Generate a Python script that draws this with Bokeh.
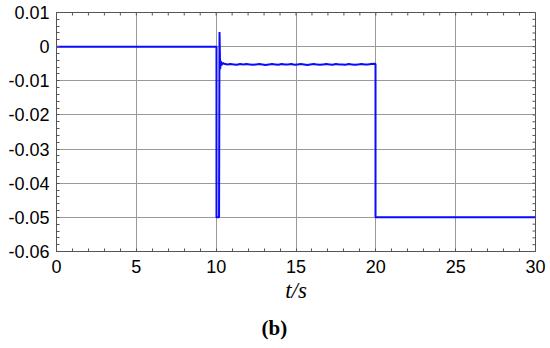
import math
from bokeh.plotting import figure
from bokeh.models import LinearAxis, FixedTicker, Range1d, Title
from bokeh.embed import file_html
from bokeh.resources import INLINE

# Signal: time (s) and value
t_vals = [0.0, 10.02, 10.02, 10.18, 10.21, 10.25, 10.29, 10.33, 10.40,
          10.5, 10.7, 10.9, 11.1, 11.3, 11.5, 11.7, 11.9, 12.1, 12.3, 12.5,
          12.7, 12.9, 13.1, 13.3, 13.5, 13.7, 13.9, 14.1, 14.3, 14.5, 14.7,
          14.9, 15.1, 15.3, 15.5, 15.7, 15.9, 16.1, 16.3, 16.5, 16.7, 16.9,
          17.1, 17.3, 17.5, 17.7, 17.9, 18.1, 18.3, 18.5, 18.7, 18.9, 19.1,
          19.3, 19.5, 19.7, 19.9, 19.98, 19.98, 30.0]
y_vals = [0.0, 0.0, -0.05, -0.05, 0.0043, -0.0066, -0.0042, -0.0055, -0.0048,
          -0.0050, -0.0052, -0.0051, -0.0052, -0.0053, -0.0051, -0.0052, -0.0051,
          -0.0052, -0.0053, -0.0052, -0.0051, -0.0052, -0.0054, -0.0052, -0.0051,
          -0.0052, -0.0053, -0.0051, -0.0052, -0.0052, -0.0051, -0.0053, -0.0052,
          -0.0051, -0.0052, -0.0054, -0.0052, -0.0051, -0.0052, -0.0053, -0.0052,
          -0.0051, -0.0052, -0.0053, -0.0051, -0.0052, -0.0052, -0.0053, -0.0051,
          -0.0052, -0.0053, -0.0052, -0.0051, -0.0052, -0.0052, -0.0051, -0.0050,
          -0.0051, -0.05, -0.05]

x_ticks = [0, 5, 10, 15, 20, 25, 30]
y_ticks = [0.01, 0.0, -0.01, -0.02, -0.03, -0.04, -0.05, -0.06]
y_tick_labels = ["0.01", "0", "-0.01", "-0.02", "-0.03", "-0.04", "-0.05", "-0.06"]
x_minor = list(range(0, 31))
y_minor = [0.01, 0.008, 0.006, 0.004, 0.002, 0.0, -0.002, -0.004, -0.006, -0.008,
           -0.01, -0.012, -0.014, -0.016, -0.018, -0.02, -0.022, -0.024, -0.026,
           -0.028, -0.03, -0.032, -0.034, -0.036, -0.038, -0.04, -0.042, -0.044,
           -0.046, -0.048, -0.05, -0.052, -0.054, -0.056, -0.058, -0.06]

X0, X1, Y0, Y1 = 0, 30, -0.06, 0.01

p = figure(width=550, height=348, output_backend="svg", toolbar_location=None,
           x_range=Range1d(X0, X1), y_range=Range1d(Y0, Y1),
           min_border_left=56, min_border_right=15, min_border_top=12,
           min_border_bottom=97, x_axis_location=None, y_axis_location=None)
p.background_fill_color = "white"
p.border_fill_color = "white"
p.outline_line_color = "#555555"
p.outline_line_width = 1

def make_axis(ticks, minor):
    ax = LinearAxis(ticker=FixedTicker(ticks=ticks, minor_ticks=minor))
    ax.axis_line_color = "#555555"
    ax.major_tick_in = 0
    ax.major_tick_out = 0
    ax.minor_tick_in = 3
    ax.minor_tick_out = 0
    ax.minor_tick_line_color = "#555555"
    ax.major_label_text_font = "Liberation Sans"
    ax.major_label_text_font_size = "18px"
    ax.major_label_text_color = "black"
    return ax

xb = make_axis(x_ticks, x_minor)
xb.major_label_standoff = 8
xb.axis_label = "t/s"
xb.axis_label_text_font = "Liberation Serif"
xb.axis_label_text_font_style = "italic"
xb.axis_label_text_font_size = "23px"
xb.axis_label_text_color = "black"
xb.axis_label_standoff = 2
p.add_layout(xb, "below")

yl = make_axis(y_ticks, y_minor)
yl.major_label_standoff = 7
yl.major_label_overrides = {k: v for k, v in zip(y_ticks, y_tick_labels)}
p.add_layout(yl, "left")

p.xgrid.ticker = FixedTicker(ticks=x_ticks)
p.ygrid.ticker = FixedTicker(ticks=y_ticks)
p.xgrid.grid_line_color = "#9a9a9a"
p.ygrid.grid_line_color = "#9a9a9a"

# inner minor ticks along top and right frame edges (half of each dash is clipped away)
p.scatter(x_minor, [Y1] * len(x_minor), marker="dash", size=6, angle=math.pi / 2,
          line_color="#555555", line_width=1)
p.scatter([X1] * len(y_minor), y_minor, marker="dash", size=6,
          line_color="#555555", line_width=1)

p.line(t_vals, y_vals, line_color="#0a0aff", line_width=2)

cap = Title(text="(b)", align="left", offset=205, standoff=17,
            text_font="Liberation Serif", text_font_style="bold",
            text_font_size="21px", text_color="black")
p.add_layout(cap, "below")

open("out.html", "w").write(file_html(p, INLINE))
